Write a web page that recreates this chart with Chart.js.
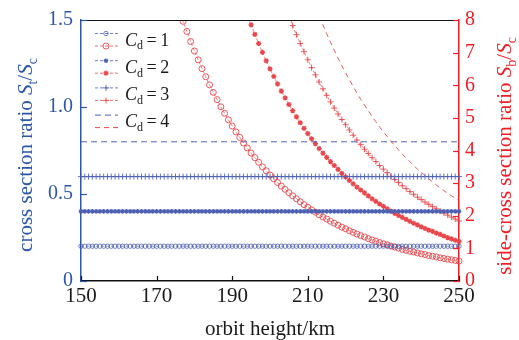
<!DOCTYPE html>
<html><head><meta charset="utf-8">
<script src="https://cdn.jsdelivr.net/npm/chart.js@4.4.1/dist/chart.umd.min.js"></script>
<style>html,body{margin:0;padding:0;background:#fff;}canvas{display:block;}</style>
</head><body>
<canvas id="c" width="519" height="340"></canvas>
<script>
// ---- data ----
const heights = [150,151,152,153,154,155,156,157,158,159,160,161,162,163,164,165,166,167,168,169,170,171,172,173,174,175,176,177,178,179,180,181,182,183,184,185,186,187,188,189,190,191,192,193,194,195,196,197,198,199,200,201,202,203,204,205,206,207,208,209,210,211,212,213,214,215,216,217,218,219,220,221,222,223,224,225,226,227,228,229,230,231,232,233,234,235,236,237,238,239,240,241,242,243,244,245,246,247,248,249,250];
const xTicks = [150,170,190,210,230,250];
const leftTicks = [0,0.5,1,1.5];
const leftTickLabels = ['0','0.5','1.0','1.5'];
const rightTicks = [0,1,2,3,4,5,6,7,8];
const legendLabels = ['1','2','3','4'];

// cross section ratio St/Sc (left axis)
const stCd1 = [0.2,0.2,0.2,0.2,0.2,0.2,0.2,0.2,0.2,0.2,0.2,0.2,0.2,0.2,0.2,0.2,0.2,0.2,0.2,0.2,0.2,0.2,0.2,0.2,0.2,0.2,0.2,0.2,0.2,0.2,0.2,0.2,0.2,0.2,0.2,0.2,0.2,0.2,0.2,0.2,0.2,0.2,0.2,0.2,0.2,0.2,0.2,0.2,0.2,0.2,0.2,0.2,0.2,0.2,0.2,0.2,0.2,0.2,0.2,0.2,0.2,0.2,0.2,0.2,0.2,0.2,0.2,0.2,0.2,0.2,0.2,0.2,0.2,0.2,0.2,0.2,0.2,0.2,0.2,0.2,0.2,0.2,0.2,0.2,0.2,0.2,0.2,0.2,0.2,0.2,0.2,0.2,0.2,0.2,0.2,0.2,0.2,0.2,0.2,0.2,0.2];
const stCd2 = [0.4,0.4,0.4,0.4,0.4,0.4,0.4,0.4,0.4,0.4,0.4,0.4,0.4,0.4,0.4,0.4,0.4,0.4,0.4,0.4,0.4,0.4,0.4,0.4,0.4,0.4,0.4,0.4,0.4,0.4,0.4,0.4,0.4,0.4,0.4,0.4,0.4,0.4,0.4,0.4,0.4,0.4,0.4,0.4,0.4,0.4,0.4,0.4,0.4,0.4,0.4,0.4,0.4,0.4,0.4,0.4,0.4,0.4,0.4,0.4,0.4,0.4,0.4,0.4,0.4,0.4,0.4,0.4,0.4,0.4,0.4,0.4,0.4,0.4,0.4,0.4,0.4,0.4,0.4,0.4,0.4,0.4,0.4,0.4,0.4,0.4,0.4,0.4,0.4,0.4,0.4,0.4,0.4,0.4,0.4,0.4,0.4,0.4,0.4,0.4,0.4];
const stCd3 = [0.6,0.6,0.6,0.6,0.6,0.6,0.6,0.6,0.6,0.6,0.6,0.6,0.6,0.6,0.6,0.6,0.6,0.6,0.6,0.6,0.6,0.6,0.6,0.6,0.6,0.6,0.6,0.6,0.6,0.6,0.6,0.6,0.6,0.6,0.6,0.6,0.6,0.6,0.6,0.6,0.6,0.6,0.6,0.6,0.6,0.6,0.6,0.6,0.6,0.6,0.6,0.6,0.6,0.6,0.6,0.6,0.6,0.6,0.6,0.6,0.6,0.6,0.6,0.6,0.6,0.6,0.6,0.6,0.6,0.6,0.6,0.6,0.6,0.6,0.6,0.6,0.6,0.6,0.6,0.6,0.6,0.6,0.6,0.6,0.6,0.6,0.6,0.6,0.6,0.6,0.6,0.6,0.6,0.6,0.6,0.6,0.6,0.6,0.6,0.6,0.6];
const stCd4 = [0.8,0.8,0.8,0.8,0.8,0.8,0.8,0.8,0.8,0.8,0.8,0.8,0.8,0.8,0.8,0.8,0.8,0.8,0.8,0.8,0.8,0.8,0.8,0.8,0.8,0.8,0.8,0.8,0.8,0.8,0.8,0.8,0.8,0.8,0.8,0.8,0.8,0.8,0.8,0.8,0.8,0.8,0.8,0.8,0.8,0.8,0.8,0.8,0.8,0.8,0.8,0.8,0.8,0.8,0.8,0.8,0.8,0.8,0.8,0.8,0.8,0.8,0.8,0.8,0.8,0.8,0.8,0.8,0.8,0.8,0.8,0.8,0.8,0.8,0.8,0.8,0.8,0.8,0.8,0.8,0.8,0.8,0.8,0.8,0.8,0.8,0.8,0.8,0.8,0.8,0.8,0.8,0.8,0.8,0.8,0.8,0.8,0.8,0.8,0.8,0.8];

// side-cross section ratio Sb/Sc (right axis), each series begins at its "From" height
const sbCd1From = 176;
const sbCd1 = [8.30,7.96,7.65,7.34,7.05,6.78,6.51,6.26,6.01,5.78,5.56,5.34,5.14,4.94,4.75,4.57,4.40,4.23,4.08,3.92,3.78,3.64,3.50,3.38,3.25,3.13,3.02,2.91,2.81,2.71,2.61,2.52,2.43,2.34,2.26,2.18,2.11,2.03,1.96,1.90,1.83,1.77,1.71,1.65,1.60,1.54,1.49,1.44,1.39,1.35,1.30,1.26,1.22,1.18,1.14,1.11,1.07,1.04,1.01,0.97,0.94,0.91,0.89,0.86,0.83,0.81,0.78,0.76,0.74,0.71,0.69,0.67,0.65,0.63,0.61];
const sbCd2From = 194;
const sbCd2 = [8.15,7.85,7.56,7.28,7.01,6.75,6.50,6.27,6.04,5.82,5.61,5.41,5.22,5.03,4.85,4.68,4.52,4.36,4.21,4.06,3.92,3.79,3.66,3.54,3.42,3.30,3.19,3.08,2.98,2.88,2.79,2.70,2.61,2.52,2.44,2.36,2.29,2.21,2.14,2.07,2.01,1.95,1.89,1.83,1.77,1.72,1.66,1.61,1.56,1.52,1.47,1.43,1.38,1.33,1.29,1.25,1.21];
const sbCd3From = 205;
const sbCd3 = [8.12,7.83,7.55,7.28,7.03,6.78,6.54,6.32,6.10,5.89,5.69,5.49,5.30,5.12,4.95,4.79,4.63,4.47,4.32,4.18,4.04,3.91,3.78,3.66,3.54,3.43,3.32,3.21,3.11,3.02,2.92,2.83,2.74,2.66,2.57,2.50,2.42,2.35,2.28,2.21,2.14,2.08,2.02,1.96,1.90,1.84];
const sbCd4From = 213;
const sbCd4 = [8.13,7.85,7.58,7.32,7.07,6.83,6.60,6.38,6.17,5.96,5.76,5.57,5.39,5.22,5.04,4.88,4.72,4.57,4.43,4.28,4.15,4.02,3.89,3.77,3.66,3.54,3.43,3.33,3.23,3.13,3.04,2.94,2.86,2.77,2.69,2.61,2.54,2.46];

// ---- styling ----
const FONT = '"Liberation Serif","Times New Roman",serif';
const BLUE = '#4d60b2', BLUE_AXIS = '#2c57a7';
const RED = '#e8474c', RED_AXIS = '#ec1f26';

function pts(vals, from){ const k = heights.indexOf(from); return vals.map((v,i)=>({x:heights[k+i], y:v})); }

const marks = [
  {style:'circle', bR:2.2, bW:0.8, rR:3.0, rW:0.9, fill:'rgba(255,255,255,0)', dash:[3,2]},
  {style:'star', bR:2.3, bW:1.2, rR:2.6, rW:1.3, fill:null, dash:[3,2]},
  {style:'cross', bR:3.0, bW:0.9, rR:3.0, rW:0.9, fill:null, dash:[3,2]},
  {style:false, bR:0, bW:0, rR:0, rW:0, fill:null, dash:[6,4]}
];
const blueData = [stCd1, stCd2, stCd3, stCd4];
const redData = [[sbCd1,sbCd1From],[sbCd2,sbCd2From],[sbCd3,sbCd3From],[sbCd4,sbCd4From]];
const clipOpt = {left:4,right:4,top:0,bottom:0};
const datasets = [];
blueData.forEach((d,i)=>{
  const m = marks[i];
  datasets.push({label:'St Cd='+legendLabels[i], yAxisID:'y', data:pts(d,150),
    borderColor:BLUE, borderWidth:i===3?1:0.7, borderDash:m.dash,
    pointStyle:m.style||'circle', pointRadius:m.bR, pointBorderWidth:m.bW,
    pointBorderColor:BLUE, pointBackgroundColor:m.fill||BLUE, clip:clipOpt, tension:0});
});
redData.forEach((d,i)=>{
  const m = marks[i];
  datasets.push({label:'Sb Cd='+legendLabels[i], yAxisID:'y2', data:pts(d[0],d[1]),
    borderColor:RED, borderWidth:i===3?0.9:0.7, borderDash:i===3?[5,4]:m.dash,
    pointStyle:m.style||'circle', pointRadius:m.rR, pointBorderWidth:m.rW,
    pointBorderColor:RED, pointBackgroundColor:m.fill||RED, clip:{left:4,right:4,top:0,bottom:4}, tension:0});
});

function drawRich(ctx, parts, x, y, size, color, opts){
  opts = opts||{};
  ctx.save();
  ctx.translate(x,y);
  if (opts.rotate) ctx.rotate(-Math.PI/2);
  ctx.fillStyle = color; ctx.textBaseline='alphabetic'; ctx.textAlign='left';
  const fontFor = p => (p.i?'italic ':'') + (p.sub?Math.round(size*0.66):size) + 'px ' + FONT;
  let w = 0;
  parts.forEach(p=>{ ctx.font = fontFor(p); p.w = ctx.measureText(p.t).width; w += p.w; });
  let cx = opts.left ? 0 : -w/2;
  parts.forEach(p=>{ ctx.font = fontFor(p); ctx.fillText(p.t, cx, p.sub ? size*0.22 : 0); cx += p.w; });
  ctx.restore();
}

const decor = {
  id:'decor',
  afterDraw(chart){
    const {ctx, chartArea:a, scales} = chart;
    ctx.save();
    // top frame
    ctx.strokeStyle = '#111'; ctx.lineWidth = 1.2;
    ctx.beginPath(); ctx.moveTo(a.left, a.top+0.5); ctx.lineTo(a.right, a.top+0.5); ctx.stroke();
    // inward ticks
    ctx.lineWidth = 1.2;
    ctx.strokeStyle = '#111';
    xTicks.forEach(v=>{ const px = Math.round(scales.x.getPixelForValue(v))+0.5; ctx.beginPath(); ctx.moveTo(px, a.bottom); ctx.lineTo(px, a.bottom-5); ctx.stroke(); });
    ctx.strokeStyle = BLUE_AXIS;
    leftTicks.forEach(v=>{ const py = Math.round(scales.y.getPixelForValue(v))+0.5; ctx.beginPath(); ctx.moveTo(a.left, py); ctx.lineTo(a.left+6, py); ctx.stroke(); });
    ctx.strokeStyle = RED_AXIS;
    rightTicks.forEach(v=>{ const py = Math.round(scales.y2.getPixelForValue(v))+0.5; ctx.beginPath(); ctx.moveTo(a.right, py); ctx.lineTo(a.right-6, py); ctx.stroke(); });
    ctx.restore();

    // axis titles
    drawRich(ctx, [{t:'orbit height/km'}], (a.left+a.right)/2, 335, 21, '#1a1a1a');
    drawRich(ctx, [{t:'cross section ratio '},{t:'S',i:1},{t:'t',sub:1},{t:'/'},{t:'S',i:1},{t:'c',sub:1}], 32, 155, 21, BLUE_AXIS, {rotate:true});
    drawRich(ctx, [{t:'side-cross section ratio '},{t:'S',i:1},{t:'b',sub:1},{t:'/'},{t:'S',i:1},{t:'c',sub:1}], 511, 156, 21, RED_AXIS, {rotate:true});

    // legend
    const H = Chart.helpers;
    for (let i=0;i<4;i++){
      const m = marks[i];
      const yb = 33.5 + 27.2*i, yr = 46 + 27.2*i;
      [[yb,BLUE,m.bR,m.bW,i===3?[6,4]:[3,2]],[yr,RED,m.rR,m.rW,i===3?[5,4]:[3,2]]].forEach(([yy,col,r,bw,dash])=>{
        ctx.save();
        ctx.strokeStyle = col; ctx.lineWidth = i===3?1:0.8; ctx.setLineDash(dash);
        ctx.beginPath(); ctx.moveTo(95, yy); ctx.lineTo(118, yy); ctx.stroke();
        ctx.setLineDash([]);
        if (m.style){
          ctx.strokeStyle = col; ctx.fillStyle = m.fill || col; ctx.lineWidth = bw;
          H.drawPoint(ctx, {pointStyle:m.style, radius:r, borderWidth:bw, rotation:0}, 106, yy);
        }
        ctx.restore();
      });
      drawRich(ctx, [{t:'C',i:1},{t:'d',sub:1},{t:'\u2009=\u2009'},{t:legendLabels[i]}], 125, 45.5 + 27.2*i, 18, '#1a1a1a', {left:true});
    }
  }
};

new Chart(document.getElementById('c'), {
  type:'line',
  data:{datasets},
  options:{
    responsive:false, animation:false, devicePixelRatio:1,
    layout:{padding:{top:17,left:0,right:0,bottom:0}},
    plugins:{legend:{display:false}, tooltip:{enabled:false}},
    elements:{line:{tension:0}},
    scales:{
      x:{type:'linear', min:150, max:250,
        afterBuildTicks:s=>{ s.ticks = xTicks.map(v=>({value:v})); },
        grid:{display:false, drawTicks:false},
        border:{color:'#111', width:1.5},
        ticks:{color:'#1a1a1a', padding:3, maxRotation:0, font:{family:FONT, size:21}},
        afterFit:s=>{ s.height = 59; }},
      y:{type:'linear', position:'left', min:0, max:1.5,
        afterBuildTicks:s=>{ s.ticks = leftTicks.map(v=>({value:v})); },
        grid:{display:false, drawTicks:false},
        border:{color:BLUE_AXIS, width:1.5},
        ticks:{color:BLUE_AXIS, padding:8, font:{family:FONT, size:20}, callback:(v,i)=>leftTickLabels[i]},
        afterFit:s=>{ s.width = 81; }},
      y2:{type:'linear', position:'right', min:0, max:8,
        afterBuildTicks:s=>{ s.ticks = rightTicks.map(v=>({value:v})); },
        grid:{display:false, drawTicks:false},
        border:{color:RED_AXIS, width:1.5},
        ticks:{color:RED_AXIS, padding:6, font:{family:FONT, size:20}, callback:(v,i)=>String(rightTicks[i])},
        afterFit:s=>{ s.width = 60; }}
    }
  },
  plugins:[decor]
});
</script>
</body></html>
